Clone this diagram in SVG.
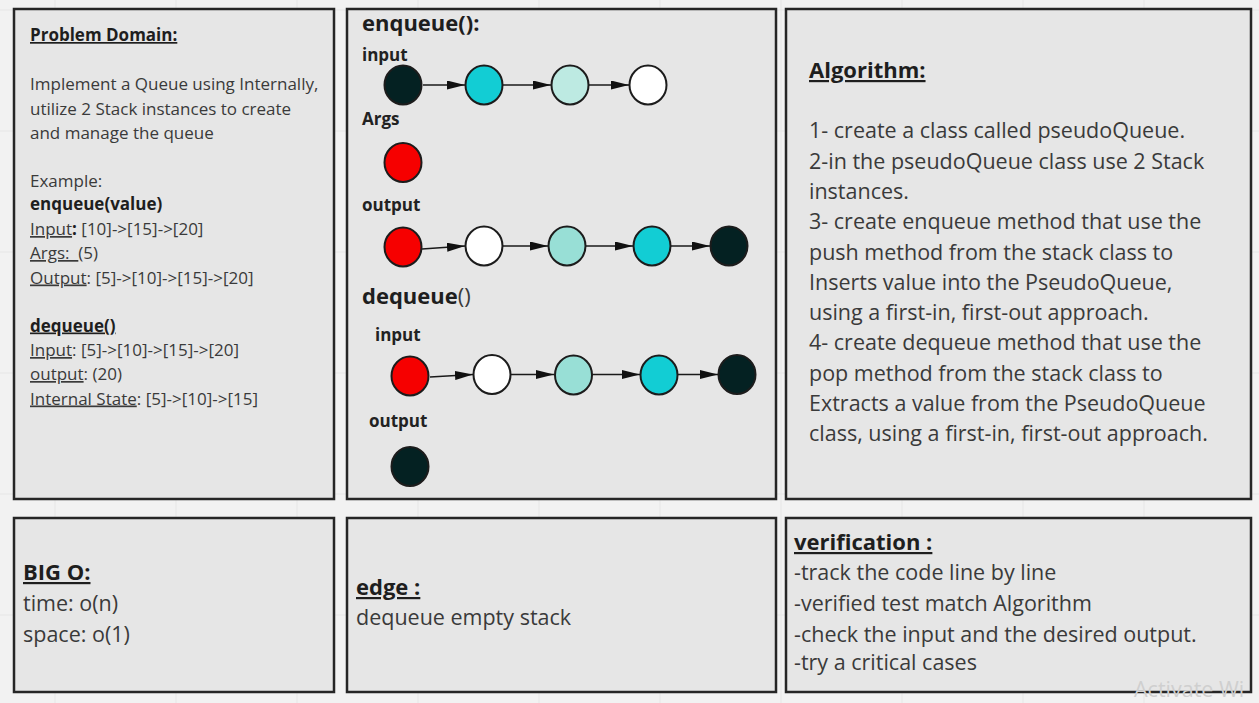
<svg xmlns="http://www.w3.org/2000/svg" width="1259" height="703" viewBox="0 0 1259 703">
  <style>
    .panel { fill: #e6e6e6; stroke: #262626; stroke-width: 2.5; }
    .grid { stroke: #e6e6e6; stroke-width: 1; }
    text { font-family: "Open Sans", "Liberation Sans", sans-serif; fill: #3a3a3a; }
    .b { font-weight: 700; fill: #1e1e1e; }
    .u { text-decoration: underline; }
    .s17 { font-size: 17px; }
    .s21 { font-size: 21.5px; }
    .h22 { font-size: 22px; font-weight: 700; fill: #1e1e1e; }
    .lbl { font-size: 17px; font-weight: 700; fill: #222; }
    .node { stroke: #1c1c1c; stroke-width: 2; }
    .dark { fill: #042122; }
    .cyan { fill: #12cdd4; }
    .mint { fill: #bdeae2; }
    .teal { fill: #98dfd6; }
    .white { fill: #ffffff; }
    .red { fill: #f60000; }
    .edge { stroke: #1a1a1a; stroke-width: 1.5; fill: none; marker-end: url(#arrow); }
    .wm { font-size: 21.5px; fill: #cfcfcf; }
  </style>
  <defs>
    <marker id="arrow" markerUnits="userSpaceOnUse" markerWidth="18" markerHeight="9" refX="18" refY="4.5" orient="auto">
      <path d="M0,0 L18,4.5 L0,9 z" fill="#111"/>
    </marker>
  </defs>

  <!-- board background with grid -->
  <rect x="0" y="0" width="1259" height="703" fill="#f2f2f2"/>
  <g id="grid">
    <path class="grid" d="M55,0V703 M176,0V703 M297,0V703 M418,0V703 M539,0V703 M660,0V703 M781,0V703 M902,0V703 M1023,0V703 M1144,0V703 M0,10H1259 M0,131H1259 M0,252H1259 M0,373H1259 M0,494H1259 M0,615H1259"/>
  </g>

  <!-- Problem domain -->
  <g id="problem-domain">
    <rect class="panel" x="14" y="9" width="320" height="490"/>
    <text class="s17 b u" x="30" y="41">Problem Domain:</text>
    <text class="s17" x="30" y="90">Implement a Queue using Internally,</text>
    <text class="s17" x="30" y="114.5">utilize 2 Stack instances to create</text>
    <text class="s17" x="30" y="139">and manage the queue</text>
    <text class="s17" x="30" y="187">Example:</text>
    <text class="s17 b" x="30" y="210">enqueue(value)</text>
    <text class="s17" x="30" y="235"><tspan class="u">Input</tspan><tspan class="b">:</tspan> [10]-&gt;[15]-&gt;[20]</text>
    <text class="s17" x="30" y="259" style="white-space:pre"><tspan class="u">Args:  </tspan>(5)</text>
    <text class="s17" x="30" y="283.5"><tspan class="u">Output</tspan>: [5]-&gt;[10]-&gt;[15]-&gt;[20]</text>
    <text class="s17 b u" x="30" y="331.5">dequeue()</text>
    <text class="s17" x="30" y="356"><tspan class="u">Input</tspan>: [5]-&gt;[10]-&gt;[15]-&gt;[20]</text>
    <text class="s17" x="30" y="380"><tspan class="u">output</tspan>: (20)</text>
    <text class="s17" x="30" y="404.5"><tspan class="u">Internal State</tspan>: [5]-&gt;[10]-&gt;[15]</text>
  </g>

  <!-- enqueue / dequeue illustration -->
  <g id="operations">
    <rect class="panel" x="347" y="9" width="429" height="490"/>
    <text class="h22" x="362" y="31">enqueue():</text>
    <text class="lbl" x="362" y="61">input</text>
    <text class="lbl" x="362" y="125">Args</text>
    <text class="lbl" x="362" y="211">output</text>
    <text x="362" y="304" style="font-size:22px"><tspan class="b">dequeue</tspan>()</text>
    <text class="lbl" x="375" y="340.5">input</text>
    <text class="lbl" x="369" y="427">output</text>
  </g>

  <!-- enqueue input row -->
  <g id="enq-in-1"><ellipse class="node dark" cx="403" cy="85" rx="18.5" ry="19.5"/></g>
  <g id="enq-in-2"><ellipse class="node cyan" cx="484" cy="85" rx="18.5" ry="19.5"/></g>
  <g id="enq-in-3"><ellipse class="node mint" cx="570" cy="85" rx="18.5" ry="19.5"/></g>
  <g id="enq-in-4"><ellipse class="node white" cx="648" cy="85" rx="18.5" ry="19.5"/></g>

  <!-- enqueue argument -->
  <g id="enq-arg"><ellipse class="node red" cx="403" cy="162.5" rx="18.5" ry="19.5"/></g>

  <!-- enqueue output row -->
  <g id="enq-out-1"><ellipse class="node red" cx="403" cy="247" rx="18.5" ry="19.5"/></g>
  <g id="enq-out-2"><ellipse class="node white" cx="484" cy="246" rx="18.5" ry="19.5"/></g>
  <g id="enq-out-3"><ellipse class="node teal" cx="567" cy="246" rx="18.5" ry="19.5"/></g>
  <g id="enq-out-4"><ellipse class="node cyan" cx="652" cy="246" rx="18.5" ry="19.5"/></g>
  <g id="enq-out-5"><ellipse class="node dark" cx="729" cy="246" rx="18.5" ry="19.5"/></g>

  <!-- dequeue input row -->
  <g id="deq-in-1"><ellipse class="node red" cx="410" cy="376" rx="18.5" ry="19.5"/></g>
  <g id="deq-in-2"><ellipse class="node white" cx="492" cy="374.5" rx="18.5" ry="19.5"/></g>
  <g id="deq-in-3"><ellipse class="node teal" cx="573.5" cy="375" rx="18.5" ry="19.5"/></g>
  <g id="deq-in-4"><ellipse class="node cyan" cx="659" cy="375" rx="18.5" ry="19.5"/></g>
  <g id="deq-in-5"><ellipse class="node dark" cx="737" cy="374.5" rx="18.5" ry="19.5"/></g>

  <!-- dequeue output -->
  <g id="deq-out"><ellipse class="node dark" cx="410" cy="466.5" rx="18.5" ry="19.5"/></g>

  <!-- connectors -->
  <g id="connectors">
    <path class="edge" d="M423,85 L465,85"/>
    <path class="edge" d="M503,85 L551,85"/>
    <path class="edge" d="M589,85 L629,85"/>

    <path class="edge" d="M422,249 L465,246"/>
    <path class="edge" d="M503,246 L548,246"/>
    <path class="edge" d="M586,246 L633,246"/>
    <path class="edge" d="M671,246 L710,246"/>

    <path class="edge" d="M430,377 L473,374.5"/>
    <path class="edge" d="M511,374.5 L554,374.5"/>
    <path class="edge" d="M592,374.5 L640,374.5"/>
    <path class="edge" d="M678,374.5 L718,374.5"/>
  </g>

  <!-- Algorithm -->
  <g id="algorithm">
    <rect class="panel" x="786" y="9" width="465" height="490"/>
    <text class="h22 u" x="809" y="78">Algorithm:</text>
    <text class="s21" x="809" y="138">1- create a class called pseudoQueue.</text>
    <text class="s21" x="809" y="168.5">2-in the pseudoQueue class use 2 Stack</text>
    <text class="s21" x="809" y="198.5">instances.</text>
    <text class="s21" x="809" y="229">3- create enqueue method that use the</text>
    <text class="s21" x="809" y="259.5">push method from the stack class to</text>
    <text class="s21" x="809" y="289.5">Inserts value into the PseudoQueue,</text>
    <text class="s21" x="809" y="320">using a first-in, first-out approach.</text>
    <text class="s21" x="809" y="350">4- create dequeue method that use the</text>
    <text class="s21" x="809" y="380.5">pop method from the stack class to</text>
    <text class="s21" x="809" y="410.5">Extracts a value from the PseudoQueue</text>
    <text class="s21" x="809" y="441">class, using a first-in, first-out approach.</text>
  </g>

  <!-- Big O -->
  <g id="big-o">
    <rect class="panel" x="14" y="518" width="320" height="174"/>
    <text class="h22 u" x="23" y="580">BIG O:</text>
    <text class="s21" x="23" y="611">time: o(n)</text>
    <text class="s21" x="23" y="641.5">space: o(1)</text>
  </g>

  <!-- Edge cases -->
  <g id="edge-cases">
    <rect class="panel" x="347" y="518" width="429" height="174"/>
    <text class="h22 u" x="356" y="595">edge :</text>
    <text class="s21" x="356" y="625">dequeue empty stack</text>
  </g>

  <!-- Verification -->
  <g id="verification">
    <rect class="panel" x="786" y="518" width="465" height="174"/>
    <text class="h22 u" x="794" y="550">verification :</text>
    <text class="s21" x="794" y="580">-track the code line by line</text>
    <text class="s21" x="794" y="611">-verified test match Algorithm</text>
    <text class="s21" x="794" y="641.5">-check the input and the desired output.</text>
    <text class="s21" x="794" y="670">-try a critical cases</text>
  </g>

  <text class="wm" x="1134" y="697">Activate Wi</text>
</svg>
